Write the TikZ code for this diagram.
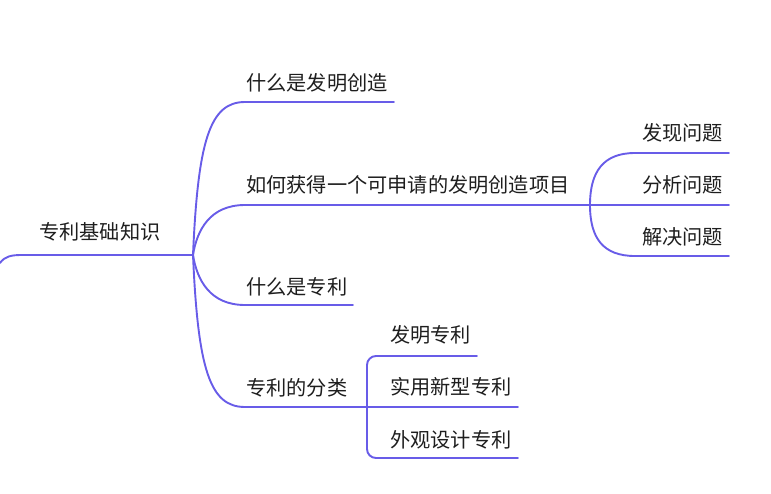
\documentclass[tikz,border=0pt]{standalone}
\usepackage{fontspec}
\newfontfamily\cjk{Noto Sans CJK SC}
\definecolor{branch}{RGB}{104,92,232}
\definecolor{ink}{RGB}{30,30,30}
\begin{document}
\begin{tikzpicture}[x=1pt,y=-1pt,
  edge/.style={draw=branch,line width=1.9pt,line cap=round},
  topic/.style={anchor=west,inner sep=0pt,font=\cjk\fontsize{20.2}{23}\selectfont,text=ink}]
\useasboundingbox (0,0) rectangle (771,493);

% root
\node[topic] (root) at (39,232) {专利基础知识};
\coordinate (rootL) at (0,263);
\coordinate (rootR) at (193,255);
\draw[edge] (rootL) .. controls (5,256) and (12,255) .. (22,255) -- (rootR);

% level 1
\node[topic] (t1) at (246,83) {什么是发明创造};
\node[topic] (t2) at (246,185) {如何获得一个可申请的发明创造项目};
\node[topic] (t3) at (246,287) {什么是专利};
\node[topic] (t4) at (246,388) {专利的分类};
\coordinate (t1a) at (245,102); \coordinate (t1b) at (394,102);
\coordinate (t2a) at (245,205); \coordinate (t2b) at (590,205);
\coordinate (t3a) at (245,305); \coordinate (t3b) at (353,305);
\coordinate (t4a) at (245,407); \coordinate (t4b) at (367,407);

\draw[edge] (rootR) .. controls (198,140) and (210,102) .. (t1a) -- (t1b);
\draw[edge] (rootR) .. controls (197,230) and (210,205) .. (t2a) -- (t2b);
\draw[edge] (rootR) .. controls (197,280) and (210,305) .. (t3a) -- (t3b);
\draw[edge] (rootR) .. controls (198,370) and (210,407) .. (t4a) -- (t4b);

% level 2 under t2
\node[topic] (s1) at (642,133) {发现问题};
\node[topic] (s2) at (642,185) {分析问题};
\node[topic] (s3) at (642,237) {解决问题};
\coordinate (s1a) at (635,153); \coordinate (s1b) at (729,153);
\coordinate (s2b) at (729,205);
\coordinate (s3a) at (635,256); \coordinate (s3b) at (729,256);
\draw[edge] (t2b) .. controls (590,172) and (603,153) .. (s1a) -- (s1b);
\draw[edge] (t2b) -- (s2b);
\draw[edge] (t2b) .. controls (590,238) and (603,256) .. (s3a) -- (s3b);

% level 2 under t4
\node[topic] (c1) at (390,335) {发明专利};
\node[topic] (c2) at (390,387) {实用新型专利};
\node[topic] (c3) at (390,440) {外观设计专利};
\coordinate (c1b) at (477,356);
\coordinate (c2b) at (518,407);
\coordinate (c3b) at (518,458);
\draw[edge,rounded corners=9pt] (t4b) -- (367,356) -- (c1b);
\draw[edge] (t4b) -- (c2b);
\draw[edge,rounded corners=9pt] (t4b) -- (367,458) -- (c3b);
\end{tikzpicture}
\end{document}
